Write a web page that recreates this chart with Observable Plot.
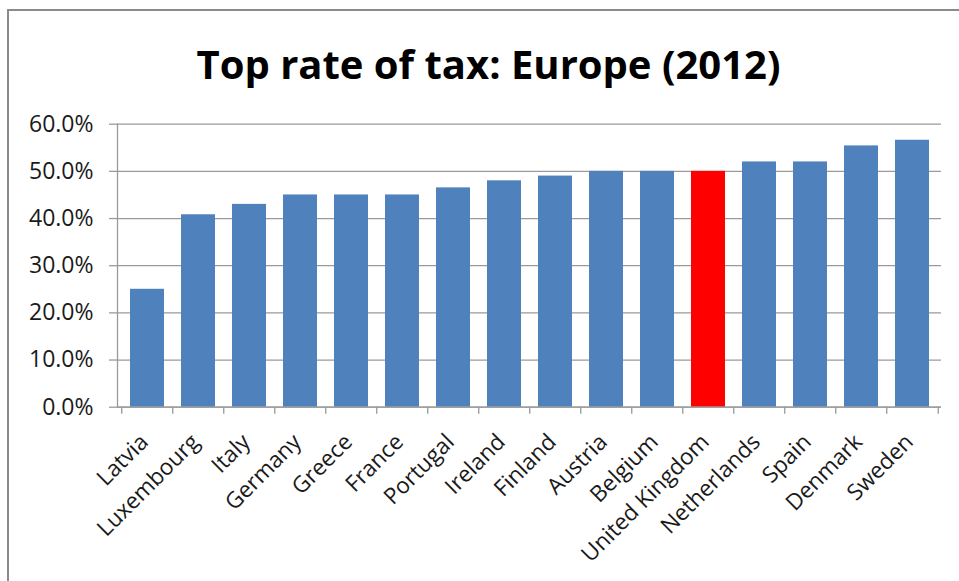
<!DOCTYPE html>
<html>
<head>
<meta charset="utf-8">
<script src="https://cdn.jsdelivr.net/npm/d3@7"></script>
<script src="https://cdn.jsdelivr.net/npm/@observablehq/plot@0.6"></script>
<style>
  html, body { margin: 0; padding: 0; background: #fff; }
  body { width: 959px; height: 581px; position: relative; overflow: hidden; font-family: "Open Sans", sans-serif; }
  #frame { position: absolute; left: 7px; top: 9px; width: 1000px; height: 700px; border-left: 2px solid #8a8a8a; border-top: 2px solid #8a8a8a; background: none; pointer-events: none; z-index: 2; }
  #title { position: absolute; left: 0; top: 43px; width: 959px; box-sizing: border-box; padding-left: 18px; text-align: center; font-size: 40px; line-height: 41px; font-weight: 700; color: #000; white-space: nowrap; }
  #chart { position: absolute; left: 0; top: 105px; z-index: 1; }
  #chart svg { background: transparent !important; }
</style>
</head>
<body>
<div id="title">Top rate of tax: Europe (2012)</div>
<div id="chart"></div>
<div id="frame"></div>
<script>
const countries = ["Latvia", "Luxembourg", "Italy", "Germany", "Greece", "France", "Portugal", "Ireland", "Finland", "Austria", "Belgium", "United Kingdom", "Netherlands", "Spain", "Denmark", "Sweden"];
const rates = [0.25, 0.408, 0.43, 0.45, 0.45, 0.45, 0.465, 0.48, 0.49, 0.50, 0.50, 0.50, 0.52, 0.52, 0.554, 0.566];
const highlighted = ["United Kingdom"];
const yTicks = [0, 0.1, 0.2, 0.3, 0.4, 0.5, 0.6];

const data = countries.map((c, i) => ({country: c, rate: rates[i], hi: highlighted.includes(c)}));

const width = 959, height = 476, marginLeft = 117, marginRight = 18;
const step = (width - marginLeft - marginRight) / countries.length;
const grey = "#9a9a9a";

const chart = Plot.plot({
  width, height,
  marginLeft, marginRight,
  marginTop: 18.7,
  marginBottom: 174.3,
  style: {fontFamily: "Open Sans, sans-serif", color: "#1a1a1a", background: "transparent"},
  x: {domain: countries, paddingInner: 1/3, paddingOuter: 1/6, axis: null, label: null},
  y: {domain: [0, 0.6], axis: null, label: null},
  marks: [
    Plot.gridY(yTicks, {stroke: grey, strokeOpacity: 1, strokeWidth: 1.3}),
    Plot.barY(data, {x: "country", y: "rate", fill: d => d.hi ? "#FF0000" : "#4F81BD"}),
    Plot.ruleY([0], {stroke: grey, strokeWidth: 1.3}),
    Plot.frame({anchor: "left", stroke: grey, strokeWidth: 1.3}),
    Plot.ruleX(countries, {x: d => d, y1: 0, y2: 0, dx: -step / 2, insetBottom: -7, stroke: grey, strokeWidth: 1.3}),
    Plot.ruleX(countries.slice(-1), {x: d => d, y1: 0, y2: 0, dx: step / 2, insetBottom: -7, stroke: grey, strokeWidth: 1.3}),
    Plot.axisY(yTicks, {tickFormat: d3.format(".1%"), tickSize: 8, tickPadding: 16, fontSize: 23, stroke: grey, strokeWidth: 1.3, fill: "#1a1a1a", label: null}),
    Plot.text(countries, {x: d => d, frameAnchor: "bottom", text: d => d, rotate: -45, textAnchor: "end", lineAnchor: "middle", dx: -3, dy: 31, fontSize: 22.5, fill: "#1a1a1a"})
  ]
});
document.getElementById("chart").appendChild(chart);
</script>
</body>
</html>
